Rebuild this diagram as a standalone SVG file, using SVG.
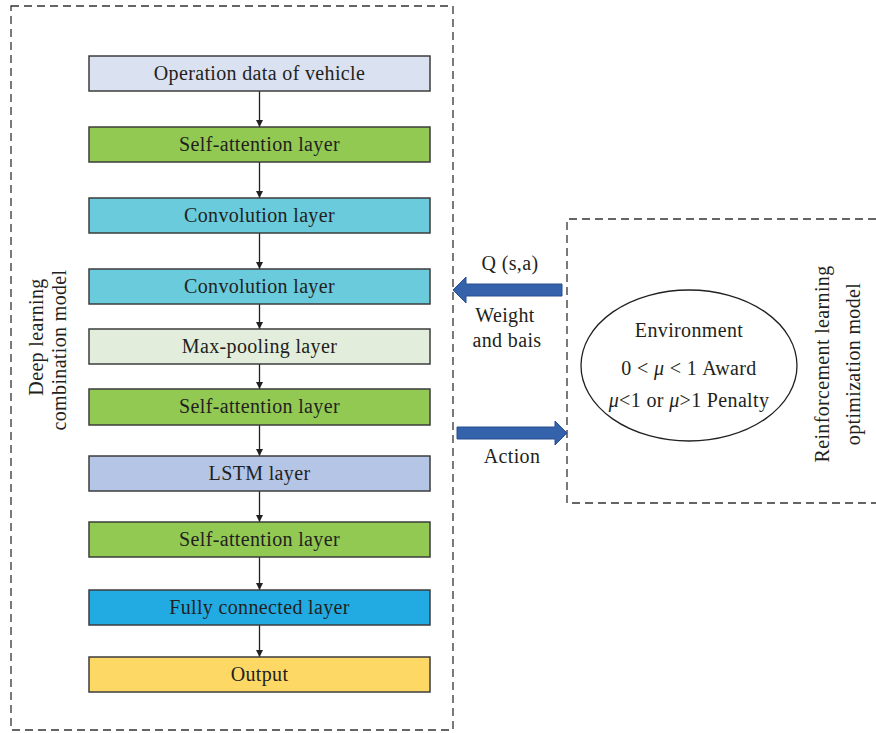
<svg xmlns="http://www.w3.org/2000/svg" width="876" height="733" viewBox="0 0 876 733">
  <style>
    .frame { fill: none; stroke: #333; stroke-width: 1.3; stroke-dasharray: 8 5; }
    .box { stroke: #3d3d3d; stroke-width: 1.5; }
    .lbl { font-family: "Liberation Serif", "Times New Roman", serif; font-size: 20px; letter-spacing: 0.35px; fill: #231f20; text-anchor: middle; }
    .link { stroke: #231f20; stroke-width: 1.3; fill: none; marker-end: url(#tri); }
    .big { fill: #3463ab; stroke: #294f8f; stroke-width: 1; }
  </style>
  <defs>
    <marker id="tri" viewBox="0 0 10 10" refX="10" refY="5" markerWidth="7" markerHeight="7" markerUnits="userSpaceOnUse" orient="auto">
      <path d="M0,0 L10,5 L0,10 Z" fill="#231f20"/>
    </marker>
  </defs>

  <!-- model frames -->
  <rect class="frame" x="11" y="6" width="442" height="724"/>
  <path class="frame" d="M876,219 H567 V503 H876"/>

  <text class="lbl" transform="translate(43,337) rotate(-90)">Deep learning</text>
  <text class="lbl" transform="translate(66,350) rotate(-90)">combination model</text>
  <text class="lbl" transform="translate(829,364) rotate(-90)">Reinforcement learning</text>
  <text class="lbl" transform="translate(860,364) rotate(-90)">optimization model</text>

  <!-- connectors -->
  <g id="connectors">
    <line class="link" x1="259.5" y1="91" x2="259.5" y2="127"/>
    <line class="link" x1="259.5" y1="162" x2="259.5" y2="198"/>
    <line class="link" x1="259.5" y1="233" x2="259.5" y2="269"/>
    <line class="link" x1="259.5" y1="304" x2="259.5" y2="329"/>
    <line class="link" x1="259.5" y1="364" x2="259.5" y2="389"/>
    <line class="link" x1="259.5" y1="425" x2="259.5" y2="456"/>
    <line class="link" x1="259.5" y1="491" x2="259.5" y2="522"/>
    <line class="link" x1="259.5" y1="557" x2="259.5" y2="590"/>
    <line class="link" x1="259.5" y1="625" x2="259.5" y2="657"/>
    <!-- feedback arrows between the two models -->
    <path class="big" d="M562,284 H466 V277 L453,290 L466,303 V296 H562 Z"/>
    <path class="big" d="M457,427 H555 V421 L567,433 L555,445 V439 H457 Z"/>
  </g>

  <!-- layer stack -->
  <g id="n-input"><rect class="box" x="89" y="56" width="341" height="35" fill="#dae1f1"/><text class="lbl" x="259.5" y="80">Operation data of vehicle</text></g>
  <g id="n-att1"><rect class="box" x="89" y="127" width="341" height="35" fill="#92c952"/><text class="lbl" x="259.5" y="151">Self-attention layer</text></g>
  <g id="n-conv1"><rect class="box" x="89" y="198" width="341" height="35" fill="#69cbdc"/><text class="lbl" x="259.5" y="222">Convolution layer</text></g>
  <g id="n-conv2"><rect class="box" x="89" y="269" width="341" height="35" fill="#69cbdc"/><text class="lbl" x="259.5" y="293">Convolution layer</text></g>
  <g id="n-pool"><rect class="box" x="89" y="329" width="341" height="35" fill="#e2eedb"/><text class="lbl" x="259.5" y="353">Max-pooling layer</text></g>
  <g id="n-att2"><rect class="box" x="89" y="389" width="341" height="36" fill="#92c952"/><text class="lbl" x="259.5" y="413">Self-attention layer</text></g>
  <g id="n-lstm"><rect class="box" x="89" y="456" width="341" height="35" fill="#b4c5e6"/><text class="lbl" x="259.5" y="480">LSTM layer</text></g>
  <g id="n-att3"><rect class="box" x="89" y="522" width="341" height="35" fill="#92c952"/><text class="lbl" x="259.5" y="546">Self-attention layer</text></g>
  <g id="n-fc"><rect class="box" x="89" y="590" width="341" height="35" fill="#22abe2"/><text class="lbl" x="259.5" y="614">Fully connected layer</text></g>
  <g id="n-out"><rect class="box" x="89" y="657" width="341" height="35" fill="#fdd865"/><text class="lbl" x="259.5" y="681">Output</text></g>

  <!-- environment -->
  <g id="n-env">
    <ellipse cx="689" cy="365.5" rx="108" ry="75.5" fill="#fff" stroke="#231f20" stroke-width="1.3"/>
    <text class="lbl" x="689" y="337">Environment</text>
    <text class="lbl" x="689" y="375">0 &lt; <tspan font-style="italic">μ</tspan> &lt; 1 Award</text>
    <text class="lbl" x="689" y="407"><tspan font-style="italic">μ</tspan>&lt;1 or <tspan font-style="italic">μ</tspan>&gt;1 Penalty</text>
  </g>

  <!-- arrow labels -->
  <text class="lbl" x="510" y="270">Q (s,a)</text>
  <text class="lbl" x="505" y="322">Weight</text>
  <text class="lbl" x="507" y="347">and bais</text>
  <text class="lbl" x="512" y="463">Action</text>
</svg>
